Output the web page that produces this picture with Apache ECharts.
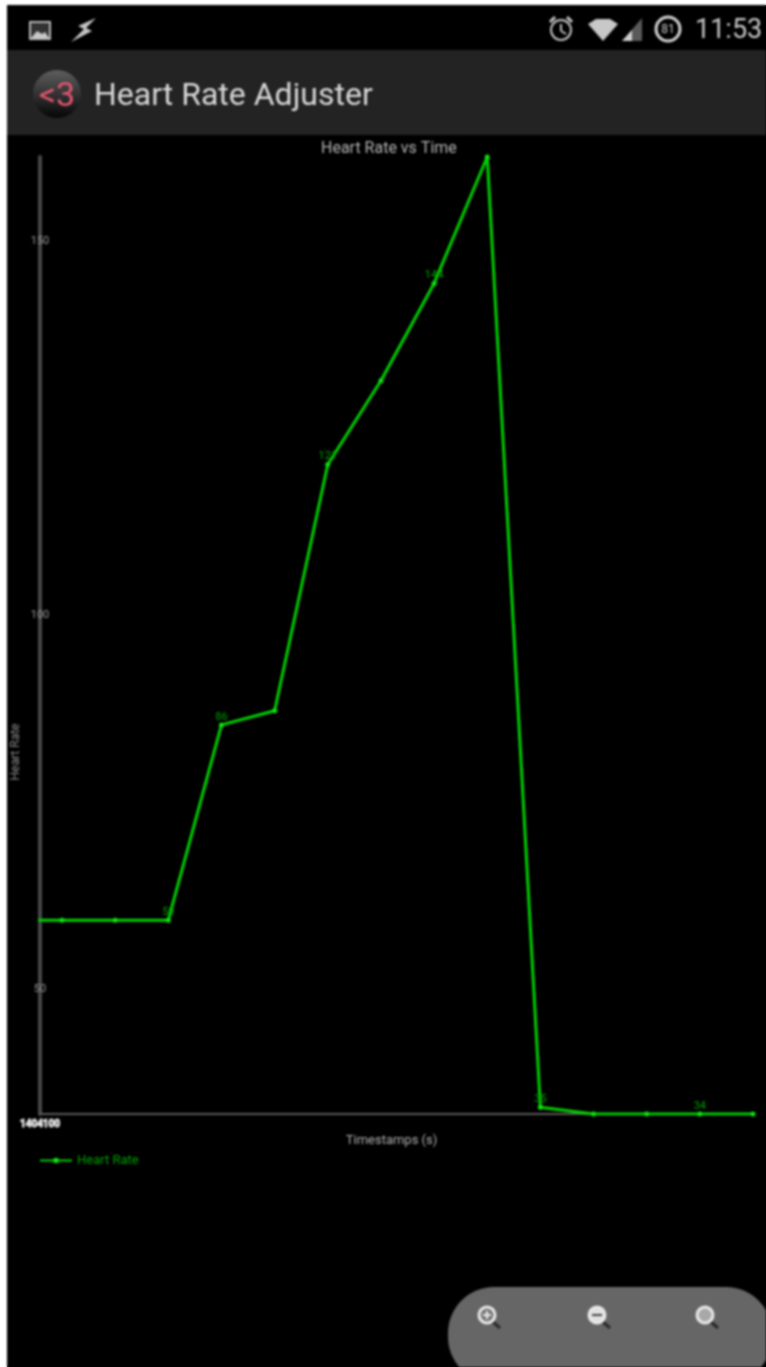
<!DOCTYPE html>
<html>
<head>
<meta charset="utf-8">
<title>Heart Rate Adjuster</title>
<script src="https://cdn.jsdelivr.net/npm/echarts@6/dist/echarts.min.js"></script>
<style>
  html, body { margin: 0; padding: 0; }
  /* white strip top and left, black under the blurred edges elsewhere */
  body { background: #fff linear-gradient(#000, #000) 7px 5px no-repeat; }
  #chart { width: 766px; height: 1367px; filter: blur(1px); }
</style>
</head>
<body>
<div id="chart"></div>
<script>
// sample number along the x axis, first one sits left of the axis and gets clipped
const timestamps = [0, 1, 2, 3, 4, 5, 6, 7, 8, 9, 10, 11, 12, 13, 14];
const heartRates = [59.2, 59.2, 59.2, 59.2, 85.3, 87.2, 120.1, 131.3, 144.3, 161.2, 34.2, 33.3, 33.3, 33.3, 33.3];
const pointLabels = ['', '', '', '59', '86', '', '121', '', '144', '', '35', '', '', '34', ''];
const yTicks = [50, 100, 150];
const xTickText = '1404100';

const xMin = 0.586;
const yMin = 33.3;
const yMax = 161.2;
const green = '#00d000';

const seriesData = timestamps.map((t, i) => [t, heartRates[i]]);

const magnifier = (cx, cy, fill) => [
  { type: 'line', shape: { x1: cx + 6, y1: cy + 7, x2: cx + 13, y2: cy + 13 }, style: { stroke: '#2a2a2a', lineWidth: 3 } },
  { type: 'circle', shape: { cx, cy, r: 8 }, style: { fill, stroke: '#e8e8e8', lineWidth: 3 } }
];

const chart = echarts.init(document.getElementById('chart'));
chart.setOption({
  backgroundColor: '#fff',
  animation: false,
  textStyle: { fontFamily: 'Roboto' },
  title: {
    text: 'Heart Rate vs Time',
    left: 321,
    top: 141,
    padding: 0,
    textStyle: { color: '#b4b4b4', fontSize: 16, fontWeight: 'normal', fontFamily: 'Roboto' }
  },
  legend: {
    left: 39,
    top: 1154,
    padding: 0,
    itemWidth: 32,
    itemHeight: 7,
    itemGap: 4,
    data: ['Heart Rate'],
    lineStyle: { width: 2 },
    textStyle: { color: '#00a000', fontSize: 13, fontFamily: 'Roboto' }
  },
  grid: { left: 40, right: 13, top: 157, bottom: 253, containLabel: false },
  xAxis: {
    type: 'value',
    min: xMin,
    max: 14,
    name: 'Timestamps (s)',
    nameLocation: 'middle',
    nameGap: 14,
    nameTextStyle: { color: '#b0b0b0', fontSize: 13, padding: [0, 10, 0, 0] },
    axisLine: { show: true, onZero: false, lineStyle: { color: '#5a5a5a', width: 2 } },
    axisTick: { show: false },
    splitLine: { show: false },
    axisLabel: {
      customValues: [xMin],
      formatter: () => xTickText,
      showMinLabel: true,
      hideOverlap: false,
      margin: 5,
      color: '#e4e4e4',
      fontSize: 10,
      fontWeight: 'bold',
      textBorderColor: '#d8d8d8',
      textBorderWidth: 1,
      align: 'center'
    }
  },
  yAxis: {
    type: 'value',
    min: yMin,
    max: yMax,
    axisLine: { show: true, onZero: false, lineStyle: { color: '#484848', width: 4 } },
    axisTick: { show: false },
    splitLine: { show: false },
    axisLabel: {
      customValues: yTicks,
      margin: 0,
      align: 'center',
      color: '#9a9a9a',
      fontSize: 11,
      padding: [3, 0, 0, 0]
    }
  },
  series: [
    {
      name: 'Heart Rate',
      type: 'line',
      data: seriesData,
      clip: true,
      z: 5,
      symbol: 'circle',
      symbolSize: 5,
      showAllSymbol: true,
      lineStyle: { color: green, width: 3 },
      itemStyle: { color: '#10e010' },
      label: {
        show: true,
        position: 'top',
        distance: 0,
        color: '#00a000',
        fontSize: 11,
        formatter: p => pointLabels[p.dataIndex]
      }
    }
  ],
  graphic: {
    elements: [
      // phone screen behind the plot
      { type: 'rect', z: -10, shape: { x: 7, y: 5, width: 759, height: 1362 }, style: { fill: '#000' } },
      // action bar
      { type: 'rect', z: -9, shape: { x: 7, y: 50, width: 759, height: 85 }, style: { fill: '#232323' } },
      {
        type: 'circle', z: 1, shape: { cx: 57, cy: 94, r: 24 },
        style: {
          fill: new echarts.graphic.LinearGradient(0, 0, 0, 1, [
            { offset: 0, color: '#5e5e5e' },
            { offset: 0.6, color: '#2a2a2a' },
            { offset: 1, color: '#050505' }
          ])
        }
      },
      { type: 'text', z: 2, x: 57, y: 97, style: { text: '<3', fill: '#e0566f', font: '34px Roboto', textAlign: 'center', textVerticalAlign: 'middle' } },
      { type: 'text', z: 2, x: 94, y: 97, style: { text: 'Heart Rate Adjuster', fill: '#d8d8d8', font: '32px Roboto', textVerticalAlign: 'middle' } },
      // axis name sits below the middle of the axis, so it is placed by hand
      { type: 'text', z: 2, x: 16, y: 752, rotation: Math.PI / 2, style: { text: 'Heart Rate', fill: '#909090', font: '12px Roboto', textAlign: 'center', textVerticalAlign: 'middle' } },
      // status bar, left
      { type: 'rect', z: 2, shape: { x: 30, y: 22, width: 20, height: 17 }, style: { fill: '#333', stroke: '#b8b8b8', lineWidth: 2 } },
      { type: 'polygon', z: 3, shape: { points: [[31, 38], [37, 31], [42, 34], [45, 32], [49, 38]] }, style: { fill: '#c8c8c8' } },
      { type: 'polygon', z: 2, shape: { points: [[96, 18], [78, 26], [84, 29], [71, 42], [92, 31], [86, 28]] }, style: { fill: '#c4c4c4' } },
      // status bar, right
      { type: 'circle', z: 2, shape: { cx: 561, cy: 30, r: 10 }, style: { fill: 'none', stroke: '#c4c4c4', lineWidth: 2 } },
      { type: 'line', z: 2, shape: { x1: 561, y1: 24, x2: 561, y2: 31 }, style: { stroke: '#c4c4c4', lineWidth: 2 } },
      { type: 'line', z: 2, shape: { x1: 561, y1: 31, x2: 566, y2: 34 }, style: { stroke: '#c4c4c4', lineWidth: 2 } },
      { type: 'line', z: 2, shape: { x1: 550, y1: 22, x2: 555, y2: 17 }, style: { stroke: '#c4c4c4', lineWidth: 3 } },
      { type: 'line', z: 2, shape: { x1: 567, y1: 17, x2: 572, y2: 22 }, style: { stroke: '#c4c4c4', lineWidth: 3 } },
      { type: 'polygon', z: 2, shape: { points: [[588, 24], [596, 19], [610, 19], [618, 24], [603, 41]] }, style: { fill: '#c8c8c8' } },
      { type: 'polygon', z: 2, shape: { points: [[622, 41], [642, 41], [642, 18]] }, style: { fill: '#5a5a5a' } },
      { type: 'polygon', z: 3, shape: { points: [[622, 41], [632, 41], [632, 30]] }, style: { fill: '#d0d0d0' } },
      { type: 'circle', z: 2, shape: { cx: 668, cy: 29, r: 12 }, style: { fill: '#000', stroke: '#d0d0d0', lineWidth: 3 } },
      { type: 'text', z: 3, x: 668, y: 30, style: { text: '81', fill: '#d0d0d0', font: '12px Roboto', textAlign: 'center', textVerticalAlign: 'middle' } },
      { type: 'text', z: 2, x: 695, y: 31, style: { text: '11:53', fill: '#c8c8c8', font: '27px Roboto', textVerticalAlign: 'middle' } },
      // zoom buttons
      { type: 'rect', z: 2, shape: { x: 448, y: 1287, width: 324, height: 96, r: 46 }, style: { fill: '#666' } },
      ...magnifier(487, 1315, '#777').map(e => ({ ...e, z: 3 })),
      { type: 'line', z: 4, shape: { x1: 483, y1: 1315, x2: 491, y2: 1315 }, style: { stroke: '#e8e8e8', lineWidth: 2 } },
      { type: 'line', z: 4, shape: { x1: 487, y1: 1311, x2: 487, y2: 1319 }, style: { stroke: '#e8e8e8', lineWidth: 2 } },
      ...magnifier(597, 1315, '#e0e0e0').map(e => ({ ...e, z: 3 })),
      { type: 'line', z: 4, shape: { x1: 592, y1: 1315, x2: 602, y2: 1315 }, style: { stroke: '#444', lineWidth: 2 } },
      ...magnifier(705, 1315, '#a8a8a8').map(e => ({ ...e, z: 3 }))
    ]
  }
});
</script>
</body>
</html>
